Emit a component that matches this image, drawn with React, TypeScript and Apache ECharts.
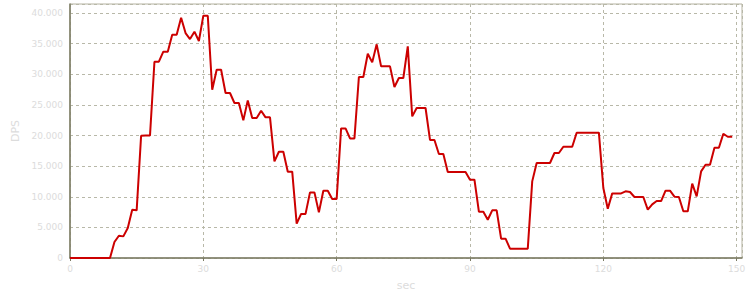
import React, { useEffect, useRef } from "react";
import * as echarts from "echarts";

const seconds: number[] = Array.from({ length: 150 }, (_, i) => i);

const dps: number[] = [
  0, 0, 0, 0, 0, 0, 0, 0, 0, 0,
  2610, 3640, 3530, 4900, 7890, 7780, 19970, 20000, 20000, 32050,
  32050, 33680, 33680, 36460, 36460, 39230, 36730, 35750, 36950, 35430,
  39560, 39560, 27480, 30740, 30740, 26940, 26940, 25310, 25310, 22470,
  25730, 22860, 22860, 24050, 22960, 22960, 15770, 17350, 17350, 14090,
  14090, 5600, 7200, 7200, 10710, 10710, 7450, 10990, 10990, 9630,
  9630, 21160, 21160, 19530, 19530, 29550, 29550, 33350, 31940, 34880,
  31290, 31290, 31290, 27920, 29390, 29390, 34550, 23120, 24490, 24490,
  24490, 19270, 19270, 16980, 16980, 14040, 14040, 14040, 14040, 14040,
  12780, 12780, 7560, 7560, 6250, 7780, 7780, 3150, 3150, 1520,
  1520, 1520, 1520, 1520, 12510, 15510, 15510, 15510, 15510, 17140,
  17140, 18170, 18170, 18170, 20460, 20460, 20460, 20460, 20460, 20460,
  11430, 8050, 10550, 10550, 10550, 10880, 10770, 9960, 9960, 9960,
  7890, 8750, 9300, 9300, 10990, 10990, 10010, 9960, 7620, 7620,
  12130, 10060, 14140, 15230, 15230, 18010, 18010, 20290, 19800, 19800,
];

const xName = "sec";
const yName = "DPS";

const fmt = (v: number) => {
  const s = String(Math.round(v));
  return s.replace(/\B(?=(\d{3})+(?!\d))/g, ".");
};

export default function App() {
  const ref = useRef<HTMLDivElement>(null);
  useEffect(() => {
    if (!ref.current) return;
    const chart = echarts.init(ref.current, undefined, { renderer: "svg" });
    const font = "DejaVu Sans";
    const labelColor = "#dcdcdc";
    const axisDark = "#7a7a62";
    const gridLine = "#b8b8a8";
    chart.setOption({
      animation: false,
      grid: {
        left: 70,
        right: 8,
        top: 4,
        bottom: 42,
        show: true,
        borderColor: "#b4b2a0",
        borderWidth: 1,
      },
      xAxis: {
        type: "value",
        min: 0,
        max: 151.2,
        interval: 30,
        name: xName,
        nameLocation: "middle",
        nameGap: 22,
        nameTextStyle: { color: labelColor, fontFamily: font, fontSize: 11 },
        axisLine: { show: true, lineStyle: { color: axisDark, width: 1.5 } },
        axisTick: { show: true, length: 3, lineStyle: { color: axisDark } },
        axisLabel: {
          color: labelColor,
          fontFamily: font,
          fontSize: 9,
          margin: 6,
          showMaxLabel: false,
        },
        splitLine: { show: true, lineStyle: { color: gridLine, type: [3, 3], width: 1 } },
      },
      yAxis: {
        type: "value",
        min: 0,
        max: 41470,
        interval: 5000,
        name: yName,
        nameLocation: "middle",
        nameGap: 46,
        nameTextStyle: { color: labelColor, fontFamily: font, fontSize: 11 },
        axisLine: { show: true, lineStyle: { color: axisDark, width: 1.5 } },
        axisTick: { show: false },
        axisLabel: {
          color: labelColor,
          fontFamily: font,
          fontSize: 9,
          margin: 7,
          showMaxLabel: false,
          formatter: (v: number) => fmt(v),
        },
        splitLine: { show: true, lineStyle: { color: gridLine, type: [3, 3], width: 1 } },
      },
      series: [
        {
          type: "line",
          data: seconds.map((s, i) => [s, dps[i]]),
          showSymbol: false,
          symbol: "none",
          lineStyle: { color: "#cc0000", width: 2 },
        },
      ],
    });
    return () => chart.dispose();
  }, []);
  return <div ref={ref} style={{ width: 750, height: 300, position: "absolute", left: 0, top: 0 }} />;
}
